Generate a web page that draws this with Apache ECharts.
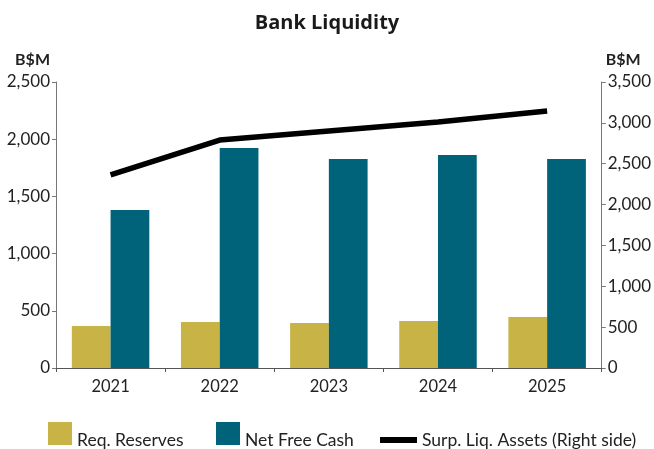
<!DOCTYPE html>
<html lang="en">
<head>
  <meta charset="UTF-8">
  <title>Bank Liquidity</title>
  <style type="text/css">
    html, body { margin: 0; padding: 0; background: #fff; }
  </style>
</head>
<body>
  <div id="main" style="width: 654px; height: 449px;"></div>
</body>
<script type="text/javascript" src="https://cdn.jsdelivr.net/npm/echarts@6/dist/echarts.min.js"></script>
<script type="text/javascript">
  var years = ['2021', '2022', '2023', '2024', '2025']
  var reqReserves = [367, 402, 393, 411, 446]
  var netFreeCash = [1381, 1923, 1827, 1862, 1827]
  var surpLiqAssets = [2362, 2790, 2900, 3011, 3145]
  var leftTicks = { min: 0, max: 2500, interval: 500 }
  var rightTicks = { min: 0, max: 3500, interval: 500 }

  var font = 'Lato'
  var textColor = '#222'
  var axisColor = '#777'

  function thousands(v) { return v.toLocaleString('en-US') }

  var myChart = echarts.init(document.getElementById('main'))
  // push the label a little below the square, as in the original
  var legendText = {
    fontFamily: font, fontSize: 17.5, color: textColor,
    rich: { low: { fontFamily: font, fontSize: 17.5, color: textColor, padding: [13, 0, 0, 0] } }
  }
  var option = {
    title: {
      text: 'Bank Liquidity',
      left: 'center',
      top: 8,
      textStyle: { fontFamily: 'Open Sans', fontSize: 20, fontWeight: 'bold', color: '#1a1a1a' }
    },
    grid: { left: 56, right: 52, top: 82, bottom: 81, containLabel: false },
    legend: [{
      data: ['Req. Reserves'],
      left: 48, top: 422, padding: 0,
      icon: 'rect', itemWidth: 24, itemHeight: 23,
      formatter: '{low|{name}}',
      textStyle: legendText
    }, {
      data: ['Net Free Cash'],
      left: 216, top: 422, padding: 0,
      icon: 'rect', itemWidth: 24, itemHeight: 23,
      formatter: '{low|{name}}',
      textStyle: legendText
    }, {
      data: ['Surp. Liq. Assets (Right side)'],
      left: 380, top: 430, padding: 0,
      icon: 'rect', itemWidth: 37, itemHeight: 6,
      textStyle: { fontFamily: font, fontSize: 17.5, color: textColor, lineHeight: 20 }
    }],
    xAxis: {
      type: 'category',
      data: years,
      axisLine: { lineStyle: { color: '#555' } },
      axisTick: { show: true, length: 4, lineStyle: { color: '#555' } },
      axisLabel: { fontFamily: font, fontSize: 16.5, color: textColor, margin: 10 }
    },
    yAxis: [{
      type: 'value',
      min: leftTicks.min,
      max: leftTicks.max,
      interval: leftTicks.interval,
      name: 'B$M',
      nameLocation: 'end',
      nameGap: 14,
      nameTextStyle: { fontFamily: font, fontSize: 16, fontWeight: 'bold', color: textColor, align: 'right', padding: [0, 6, 0, 0] },
      axisLine: { show: true, lineStyle: { color: axisColor } },
      axisTick: { show: true, length: 4, lineStyle: { color: axisColor } },
      splitLine: { show: false },
      axisLabel: { fontFamily: font, fontSize: 17, color: textColor, margin: 6, formatter: thousands }
    }, {
      type: 'value',
      position: 'right',
      min: rightTicks.min,
      max: rightTicks.max,
      interval: rightTicks.interval,
      name: 'B$M',
      nameLocation: 'end',
      nameGap: 14,
      nameTextStyle: { fontFamily: font, fontSize: 16, fontWeight: 'bold', color: textColor, align: 'left', padding: [0, 0, 0, 4] },
      axisLine: { show: true, lineStyle: { color: axisColor } },
      axisTick: { show: true, length: 4, lineStyle: { color: axisColor } },
      splitLine: { show: false },
      axisLabel: { fontFamily: font, fontSize: 17, color: textColor, margin: 6, formatter: thousands }
    }],
    series: [{
      name: 'Req. Reserves',
      type: 'bar',
      data: reqReserves,
      barGap: '0%',
      barCategoryGap: '29%',
      itemStyle: { color: '#C8B347' }
    }, {
      name: 'Net Free Cash',
      type: 'bar',
      data: netFreeCash,
      itemStyle: { color: '#00637A' }
    }, {
      name: 'Surp. Liq. Assets (Right side)',
      type: 'line',
      yAxisIndex: 1,
      data: surpLiqAssets,
      showSymbol: false,
      symbol: 'none',
      lineStyle: { color: '#000', width: 5.5 },
      itemStyle: { color: '#000' }
    }]
  }
  myChart.setOption(option)
</script>
</html>
